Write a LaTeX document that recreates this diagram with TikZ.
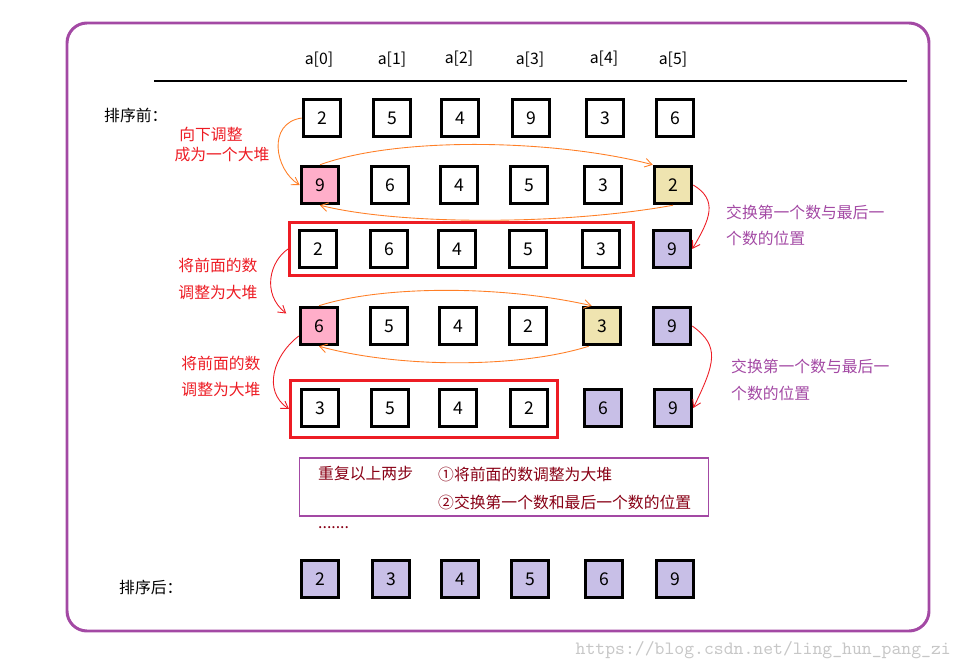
\documentclass[tikz,border=0pt]{standalone}
\usepackage{fontspec}
\newfontfamily\cjk{Noto Sans CJK SC}
\usetikzlibrary{arrows.meta}

\definecolor{heapPink}{RGB}{255,174,201}
\definecolor{heapYellow}{RGB}{239,228,176}
\definecolor{heapLav}{RGB}{200,191,231}
\definecolor{heapRed}{RGB}{237,28,36}
\definecolor{heapOrange}{RGB}{255,127,39}
\definecolor{heapPurple}{RGB}{163,73,164}
\definecolor{heapDark}{RGB}{136,0,21}

\begin{document}
\begin{tikzpicture}[x=0.02cm, y=-0.02cm,
        cell/.style={rectangle, draw=black, line width=2pt, minimum size=0.74cm, inner sep=0pt, font=\cjk\fontsize{10}{12}\selectfont},
        topcell/.style={cell, fill=heapPink},
        lastcell/.style={cell, fill=heapYellow},
        donecell/.style={cell, fill=heapLav},
        idx/.style={font=\cjk\fontsize{9}{11}\selectfont},
        caption/.style={font=\cjk\fontsize{9}{11}\selectfont, anchor=west},
        redtext/.style={font=\cjk\fontsize{9}{11}\selectfont, text=heapRed},
        swaptext/.style={font=\cjk\fontsize{9}{11}\selectfont, text=heapPurple, anchor=west},
        steptext/.style={font=\cjk\fontsize{9}{11}\selectfont, text=heapDark, anchor=west},
        heapbox/.style={rectangle, draw=heapRed, line width=1.7pt, inner sep=0pt},
        notebox/.style={rectangle, draw=heapPurple, line width=0.6pt, inner sep=0pt, minimum width=8.2cm, minimum height=1.16cm},
        sift/.style={draw=heapOrange, line width=0.5pt, -{Straight Barb[length=4pt,width=5pt]}},
        swap/.style={draw=heapRed, line width=0.5pt, -{Straight Barb[length=4pt,width=5pt]}}
    ]
        \useasboundingbox (0,0) rectangle (965,669);
        \draw[heapPurple, line width=1.7pt, rounded corners=0.4cm] (67,23) rectangle (929,631);

        % index row
        \node[idx] (i0) at (319,60) {a[0]};
        \node[idx] (i1) at (392,60) {a[1]};
        \node[idx] (i2) at (459,59) {a[2]};
        \node[idx] (i3) at (530,60) {a[3]};
        \node[idx] (i4) at (604,59) {a[4]};
        \node[idx] (i5) at (673,60) {a[5]};
        \draw[line width=1.6pt] (154,81) -- (907,81);

        \node[caption] (before) at (98,115) {排序前：};

        % before
        \node[cell] (r1c0) at (322,118) {2};
        \node[cell] (r1c1) at (392,118) {5};
        \node[cell] (r1c2) at (460,118) {4};
        \node[cell] (r1c3) at (531,118) {9};
        \node[cell] (r1c4) at (605,118) {3};
        \node[cell] (r1c5) at (675,118) {6};

        % big heap
        \node[topcell] (r2c0) at (320,185) {9};
        \node[cell] (r2c1) at (390,185) {6};
        \node[cell] (r2c2) at (459,185) {4};
        \node[cell] (r2c3) at (529,185) {5};
        \node[cell] (r2c4) at (603,185) {3};
        \node[lastcell] (r2c5) at (673,185) {2};

        % after first swap
        \node[heapbox, minimum width=6.88cm, minimum height=1.06cm] (heapA) at (461.5,249) {};
        \node[cell] (r3c0) at (318,249) {2};
        \node[cell] (r3c1) at (389,249) {6};
        \node[cell] (r3c2) at (457,249) {4};
        \node[cell] (r3c3) at (528,249) {5};
        \node[cell] (r3c4) at (601,249) {3};
        \node[donecell] (r3c5) at (672,249) {9};

        % heap again
        \node[topcell] (r4c0) at (319,326) {6};
        \node[cell] (r4c1) at (389,326) {5};
        \node[cell] (r4c2) at (458,326) {4};
        \node[cell] (r4c3) at (528,326) {2};
        \node[lastcell] (r4c4) at (602,326) {3};
        \node[donecell] (r4c5) at (672,326) {9};

        % after second swap
        \node[heapbox, minimum width=5.34cm, minimum height=1.14cm] (heapB) at (424,409) {};
        \node[cell] (r5c0) at (320,408) {3};
        \node[cell] (r5c1) at (390,408) {5};
        \node[cell] (r5c2) at (458,408) {4};
        \node[cell] (r5c3) at (529,408) {2};
        \node[donecell] (r5c4) at (603,408) {6};
        \node[donecell] (r5c5) at (673,408) {9};

        % labels
        \node[redtext] (down1) at (211,134) {向下调整};
        \node[redtext] (down2) at (222,155) {成为一个大堆};
        \node[redtext] (adj1) at (218,265) {将前面的数};
        \node[redtext] (adj2) at (218,292) {调整为大堆};
        \node[redtext] (adj3) at (221,363) {将前面的数};
        \node[redtext] (adj4) at (221,389) {调整为大堆};
        \node[swaptext] (sw1) at (720,212) {交换第一个数与最后一};
        \node[swaptext] (sw2) at (720,238) {个数的位置};
        \node[swaptext] (sw3) at (725,366) {交换第一个数与最后一};
        \node[swaptext] (sw4) at (725,393) {个数的位置};

        % arrows
        \draw[sift] (r1c0.west) .. controls +(-35,5) and +(-25,-15) .. (r2c0.west);
        \draw[sift] (r2c0.north) .. controls +(80,-29) and +(-95,-25) .. (r2c5.north west);
        \draw[sift] (r2c5.south) .. controls +(-110,20) and +(80,20) .. (r2c0.south);
        \draw[swap] (r2c5.east) .. controls +(25,15) and +(18,-30) .. (r3c5.east);
        \draw[swap] (heapA.west) .. controls +(-18,12) and +(-25,-20) .. ([xshift=-0.25cm,yshift=0.25cm]r4c0.west);
        \draw[sift] (r4c0.north) .. controls +(62,-20) and +(-92,-21) .. ([xshift=0.2cm]r4c4.north west);
        \draw[sift] ([xshift=0.14cm]r4c4.south west) .. controls +(-70,22) and +(80,22) .. (r4c0.south);
        \draw[swap] (r4c5.east) .. controls +(28,20) and +(22,-45) .. (r5c5.east);
        \draw[swap] ([yshift=-0.2cm]r4c0.west) .. controls +(-25,19) and +(-27,-18) .. (heapB.west);

        % repeat note
        \node[notebox] (repeat) at (504,487) {};
        \node[steptext] (rep) at (312,474) {重复以上两步};
        \node[steptext] (st1) at (432,474) {①将前面的数调整为大堆};
        \node[steptext] (st2) at (432,502) {②交换第一个数和最后一个数的位置};
        \node[steptext] (dots) at (312,528) {.......};

        % sorted
        \node[caption] (after) at (113,587) {排序后：};
        \node[donecell] (r6c0) at (320,579) {2};
        \node[donecell] (r6c1) at (391,579) {3};
        \node[donecell] (r6c2) at (460,579) {4};
        \node[donecell] (r6c3) at (530,579) {5};
        \node[donecell] (r6c4) at (604,579) {6};
        \node[donecell] (r6c5) at (675,579) {9};

        \node[font=\ttfamily\fontsize{10.7}{12}\selectfont, text=black!22, anchor=east] (mark) at (957,650) {https://blog.csdn.net/ling\_hun\_pang\_zi};
    \end{tikzpicture}
\end{document}
